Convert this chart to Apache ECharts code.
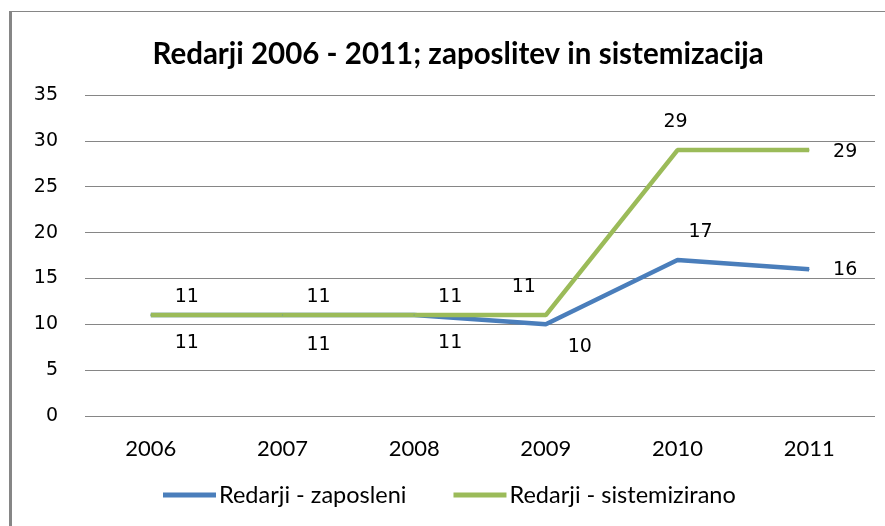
<!DOCTYPE html>
<html>
<head>
<meta charset="utf-8">
<script src="https://cdn.jsdelivr.net/npm/echarts@6/dist/echarts.min.js"></script>
<style>
  html, body { margin: 0; padding: 0; background: #fff; }
  #chart { width: 885px; height: 526px; }
</style>
</head>
<body>
<div id="chart"></div>
<script>
// data
const years = ['2006', '2007', '2008', '2009', '2010', '2011'];
const zaposleni = [11, 11, 11, 10, 17, 16];
const sistemizirano = [11, 11, 11, 11, 29, 29];
const yTicks = { min: 0, max: 35, interval: 5 };

// where each value label sits relative to its point (px)
const offsZap = [[36, 28], [36, 30], [36, 28], [34, 23], [23, -28], [36, 1]];
const offsSis = [[36, -18], [36, -18], [36, -18], [-22, -28], [-2, -28], [36, 2]];

const calib = "Lato, 'Open Sans', sans-serif";
const verd = "'DejaVu Sans', Verdana, sans-serif";

function withLabels(vals, offs) {
  return vals.map((v, i) => ({
    value: v,
    label: {
      show: true,
      position: 'inside',
      offset: offs[i],
      align: 'center',
      verticalAlign: 'middle'
    }
  }));
}

const chart = echarts.init(document.getElementById('chart'));
chart.setOption({
  backgroundColor: '#fff',
  animation: false,
  title: {
    text: 'Redarji 2006 - 2011; zaposlitev in sistemizacija',
    left: 453,
    textAlign: 'center',
    top: 34,
    textStyle: { fontFamily: calib, fontSize: 29.5, fontWeight: 'bold', color: '#000' }
  },
  legend: {
    bottom: 14,
    left: 158,
    itemWidth: 53,
    itemHeight: 5,
    itemGap: 47,
    icon: 'rect',
    textStyle: { fontFamily: calib, fontSize: 23.5, color: '#000', padding: [0, 0, 0, -2] },
    data: ['Redarji - zaposleni', 'Redarji - sistemizirano']
  },
  grid: { left: 85, right: 10, top: 95, bottom: 110 },
  xAxis: {
    type: 'category',
    data: years,
    boundaryGap: true,
    axisLine: { show: false },
    axisTick: { show: false },
    axisLabel: { fontFamily: calib, fontSize: 22, color: '#000', margin: 22 }
  },
  yAxis: {
    type: 'value',
    min: yTicks.min,
    max: yTicks.max,
    interval: yTicks.interval,
    axisLine: { show: false },
    axisTick: { show: false },
    axisLabel: { fontFamily: verd, fontSize: 19, color: '#000', margin: 27 },
    splitLine: { lineStyle: { color: '#868686', width: 1 } }
  },
  series: [
    {
      name: 'Redarji - zaposleni',
      type: 'line',
      data: withLabels(zaposleni, offsZap),
      symbol: 'circle',
      symbolSize: 1,
      lineStyle: { width: 4.5, color: '#4A7EBB' },
      itemStyle: { color: '#4A7EBB' },
      label: { fontFamily: verd, fontSize: 19, color: '#000' }
    },
    {
      name: 'Redarji - sistemizirano',
      type: 'line',
      data: withLabels(sistemizirano, offsSis),
      symbol: 'circle',
      symbolSize: 1,
      lineStyle: { width: 4.5, color: '#9BBB59' },
      itemStyle: { color: '#9BBB59' },
      label: { fontFamily: verd, fontSize: 19, color: '#000' }
    }
  ],
  graphic: [
    { type: 'line', shape: { x1: 10.5, y1: 11, x2: 10.5, y2: 526 }, style: { stroke: '#868686', lineWidth: 3 } },
    { type: 'line', shape: { x1: 9, y1: 11.5, x2: 885, y2: 11.5 }, style: { stroke: '#868686', lineWidth: 1 } }
  ]
});
</script>
</body>
</html>
